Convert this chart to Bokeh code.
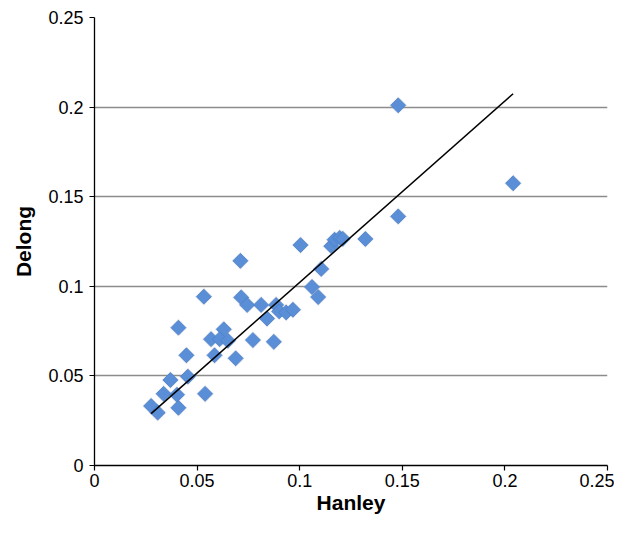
from bokeh.plotting import figure
from bokeh.models import Range1d, FixedTicker
from bokeh.embed import file_html
from bokeh.resources import INLINE
import math

# Data
hanley = [0.148, 0.204, 0.148, 0.1004, 0.1154, 0.117, 0.1195, 0.121, 0.132,
          0.1105, 0.106, 0.109, 0.0885, 0.090, 0.0934, 0.0967, 0.0711, 0.0533,
          0.0715, 0.0744, 0.0812, 0.0841, 0.063, 0.0568, 0.061, 0.065, 0.0772,
          0.0874, 0.0585, 0.0688, 0.0448, 0.0409, 0.037, 0.0455, 0.0337, 0.0402,
          0.0539, 0.0276, 0.0308, 0.0409]
delong = [0.201, 0.1575, 0.139, 0.123, 0.1224, 0.126, 0.127, 0.1265, 0.1264,
          0.1097, 0.0996, 0.094, 0.0896, 0.086, 0.0854, 0.0869, 0.1142, 0.0942,
          0.0938, 0.0896, 0.0896, 0.082, 0.076, 0.0705, 0.0705, 0.0696, 0.0700,
          0.069, 0.0615, 0.0598, 0.0615, 0.0769, 0.0477, 0.0496, 0.040, 0.0395,
          0.040, 0.0332, 0.0295, 0.0322]
trend_slope = 1.012
trend_intercept = 0.001
tick_values = [0, 0.05, 0.1, 0.15, 0.2, 0.25]
tick_labels = {0: "0", 0.05: "0.05", 0.1: "0.1", 0.15: "0.15", 0.2: "0.2", 0.25: "0.25"}

FONT = "Liberation Sans"

p = figure(width=614, height=519, output_backend="svg", toolbar_location=None,
           x_range=Range1d(0, 0.25), y_range=Range1d(0, 0.25),
           min_border_left=94, min_border_right=7, min_border_top=17,
           min_border_bottom=54)
p.outline_line_color = None
p.background_fill_color = "white"

for ax in (p.xaxis, p.yaxis):
    ax.ticker = FixedTicker(ticks=tick_values)
    ax.major_label_overrides = tick_labels
    ax.major_label_text_font = FONT
    ax.major_label_text_font_size = "18px"
    ax.major_label_text_color = "black"
    ax.axis_label_text_font = FONT
    ax.axis_label_text_font_size = "21px"
    ax.axis_label_text_font_style = "bold"
    ax.axis_label_text_color = "black"
    ax.axis_line_color = "black"
    ax.axis_line_width = 1.3
    ax.major_tick_line_color = "black"
    ax.major_tick_line_width = 1.2
    ax.major_tick_out = 5
    ax.major_tick_in = 0
    ax.minor_tick_line_color = None

p.xaxis.axis_label = "Hanley"
p.yaxis.axis_label = "Delong"
p.xaxis.major_label_standoff = 3
p.yaxis.major_label_standoff = 6
p.xaxis.axis_label_standoff = 1
p.yaxis.axis_label_standoff = 10

p.xgrid.grid_line_color = None
p.ygrid.grid_line_color = "#8c8c8c"
p.ygrid.grid_line_width = 1.3
p.ygrid.ticker = FixedTicker(ticks=tick_values[1:])

# soft halo under markers
p.scatter(hanley, delong, marker="square", size=12.5, angle=math.pi / 4,
          fill_color="#9aa8bd", fill_alpha=0.3, line_color=None)
p.scatter(hanley, delong, marker="square", size=10.5, angle=math.pi / 4,
          fill_color="#5a8fd8", line_color="#4a7fc8", line_width=0.8)

x0, x1 = min(hanley), max(hanley)
p.line([x0, x1], [trend_slope * x0 + trend_intercept, trend_slope * x1 + trend_intercept],
       line_color="black", line_width=1.5)

open("out.html", "w").write(file_html(p, INLINE))
